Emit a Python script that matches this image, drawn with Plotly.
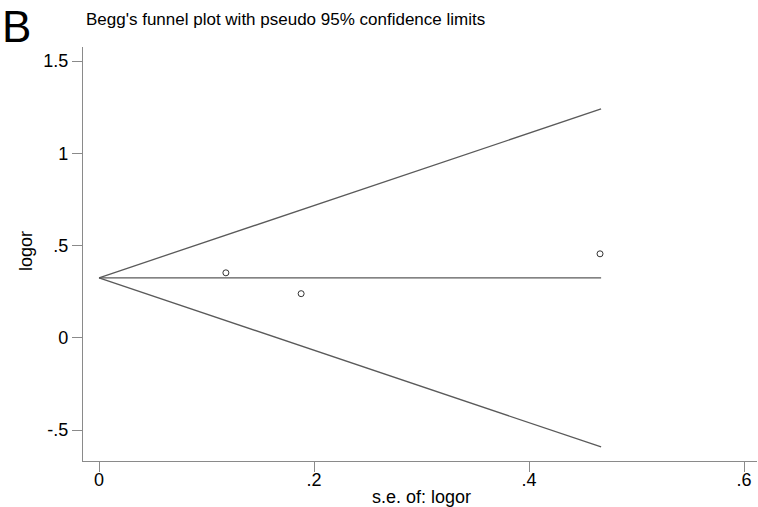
import plotly.graph_objects as go

# study estimates (Begg's funnel)
se_logor = [0.118, 0.188, 0.466]
logor = [0.352, 0.239, 0.455]

# pooled estimate line and pseudo 95% limits
line_se = [0.0, 0.467]
pooled = [0.325, 0.325]
upper_limit = [0.325, 1.240]
lower_limit = [0.325, -0.592]

x_ticks = [0, 0.2, 0.4, 0.6]
x_labels = ["0", ".2", ".4", ".6"]
y_ticks = [-0.5, 0, 0.5, 1, 1.5]
y_labels = ["-.5", "0", ".5", "1", "1.5"]

line_col = "#5a5a5a"
axis_col = "#8a8a8a"
font = "Liberation Sans, Arial, sans-serif"

W, H = 758, 507
L, R, T, B = 83, 1, 47, 46
pw, ph = W - L - R, H - T - B


def px(x):
    return (x - L) / pw


def py(y):
    return (H - B - y) / ph


fig = go.Figure()

for ys in (upper_limit, pooled, lower_limit):
    fig.add_trace(go.Scatter(x=line_se, y=ys, mode="lines",
                             line=dict(color=line_col, width=1.3),
                             hoverinfo="skip", showlegend=False))

fig.add_trace(go.Scatter(
    x=se_logor, y=logor, mode="markers",
    marker=dict(symbol="circle-open", size=6, color="#333333",
                line=dict(width=1)),
    showlegend=False))

fig.update_layout(
    width=W, height=H,
    margin=dict(l=L, r=R, t=T, b=B),
    plot_bgcolor="white", paper_bgcolor="white",
    font=dict(family=font, color="black"),
    annotations=[
        dict(text="B", x=px(0), y=py(0), xanchor="left", yanchor="top",
             font=dict(size=44)),
        dict(text="Begg's funnel plot with pseudo 95% confidence limits",
             x=px(84), y=py(20), xanchor="left", yanchor="middle",
             font=dict(size=17)),
        dict(text="s.e. of: logor", x=px(421), y=py(497),
             xanchor="center", yanchor="middle", font=dict(size=18)),
        dict(text="logor", x=px(26), y=py(251), textangle=-90,
             xanchor="center", yanchor="middle", font=dict(size=18)),
    ],
)
for a in fig.layout.annotations:
    a.update(xref="paper", yref="paper", showarrow=False)

fig.update_xaxes(
    range=[-0.0149, 0.612], tickvals=x_ticks, ticktext=x_labels,
    showgrid=False, zeroline=False, showline=True, linecolor=axis_col,
    linewidth=1.3, ticks="outside", ticklen=10, tickcolor=axis_col,
    ticklabelstandoff=-8,
    tickfont=dict(size=18), automargin=False)
fig.update_yaxes(
    range=[-0.668, 1.576], tickvals=y_ticks, ticktext=y_labels,
    showgrid=False, zeroline=False, showline=True, linecolor=axis_col,
    linewidth=1.3, ticks="outside", ticklen=10, tickcolor=axis_col,
    tickfont=dict(size=18), automargin=False)

# drop the browser's default page margin so the figure sits at (0, 0)
fig.write_html("out.html", config={"displayModeBar": False},
               post_script="document.body.style.margin='0';")
